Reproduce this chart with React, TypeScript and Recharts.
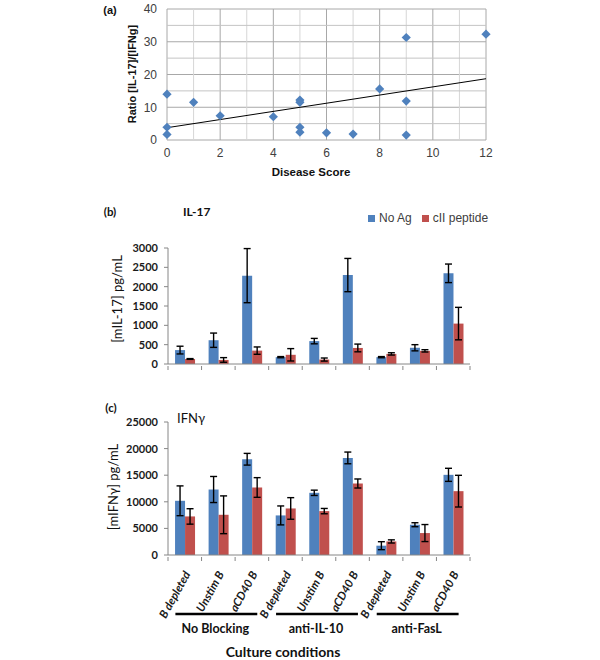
import React from "react";
import {
  ComposedChart,
  Scatter,
  XAxis,
  YAxis,
  CartesianGrid,
  ReferenceLine,
  BarChart,
  Bar,
  ErrorBar,
  Legend,
} from "recharts";

// panel (a): disease score vs IL-17/IFNg ratio
const scoreX = [0, 0, 0, 1, 2, 4, 5, 5, 5, 5, 6, 7, 8, 9, 9, 9, 12];
const ratioY = [14.0, 3.9, 1.7, 11.5, 7.4, 7.1, 12.2, 11.5, 3.9, 2.4, 2.2, 1.8, 15.6, 31.3, 11.9, 1.5, 32.3];
const scoreTicks = [0, 2, 4, 6, 8, 10, 12];
const scoreMinor = [1, 3, 5, 7, 9, 11];
const ratioTicks = [0, 10, 20, 30, 40];
const ratioMinor = [5, 15, 25, 35];

// panels (b) and (c)
const cultures = ["B depleted", "Unstim B", "aCD40 B"];
const blocking = ["No Blocking", "anti-IL-10", "anti-FasL"];
const il17NoAg = [360, 615, 2285, 177, 592, 2300, 177, 420, 2345];
const il17NoAgErr = [100, 185, 700, 15, 70, 430, 15, 80, 240];
const il17Cii = [130, 105, 346, 238, 115, 415, 261, 340, 1045];
const il17CiiErr = [10, 60, 95, 160, 40, 100, 30, 30, 420];
const ifnNoAg = [10190, 12310, 18000, 7440, 11690, 18250, 1750, 5690, 15070];
const ifnNoAgErr = [2800, 2450, 1100, 1780, 500, 1100, 750, 375, 1230];
const ifnCii = [7250, 7560, 12690, 8750, 8250, 13440, 2550, 4125, 12000];
const ifnCiiErr = [1450, 3550, 1850, 2030, 500, 850, 300, 1600, 2980];
const il17Ticks = [0, 500, 1000, 1500, 2000, 2500, 3000];
const ifnTicks = [0, 5000, 10000, 15000, 20000, 25000];

const BLUE = "#4F81BD";
const RED = "#C0504D";
const AXIS = "#868686";
const ARIAL = "'Liberation Sans', Arial, sans-serif";
const CALIBRI = "Lato, 'Open Sans', sans-serif";

const points = scoreX.map((x, i) => ({ x, y: ratioY[i] }));

// least squares trendline through the scatter points
function linearFit(xs: number[], ys: number[]) {
  const n = xs.length;
  const mx = xs.reduce((a, b) => a + b, 0) / n;
  const my = ys.reduce((a, b) => a + b, 0) / n;
  let sxy = 0;
  let sxx = 0;
  xs.forEach((x, i) => {
    sxy += (x - mx) * (ys[i] - my);
    sxx += (x - mx) * (x - mx);
  });
  const slope = sxy / sxx;
  return { slope, intercept: my - slope * mx };
}
const fit = linearFit(scoreX, ratioY);
const xMax = scoreTicks[scoreTicks.length - 1];

const rows = il17NoAg.map((_, i) => ({
  cond: cultures[i % 3],
  grp: i % 3 === 1 ? blocking[Math.floor(i / 3)] : "",
  il17NoAg: il17NoAg[i],
  il17NoAgErr: il17NoAgErr[i],
  il17Cii: il17Cii[i],
  il17CiiErr: il17CiiErr[i],
  ifnNoAg: ifnNoAg[i],
  ifnNoAgErr: ifnNoAgErr[i],
  ifnCii: ifnCii[i],
  ifnCiiErr: ifnCiiErr[i],
}));

const BAR_W = 600;
const BAR_RIGHT = 130;
const BAR_YAXIS = 168;
const CAT_W = (BAR_W - BAR_RIGHT - BAR_YAXIS) / rows.length;

const Diamond = (p: any) => {
  const { cx, cy } = p;
  const r = 4.6;
  return (
    <polygon
      points={`${cx},${cy - r} ${cx + r},${cy} ${cx},${cy + r} ${cx - r},${cy}`}
      fill={BLUE}
    />
  );
};

// tick marks between categories, like the original
const TickMarks = ({ x, y, index }: any) => (
  <g stroke={AXIS} strokeWidth={1}>
    <line x1={x - CAT_W / 2} x2={x - CAT_W / 2} y1={y} y2={y + 4} />
    {index === rows.length - 1 && <line x1={x + CAT_W / 2} x2={x + CAT_W / 2} y1={y} y2={y + 4} />}
  </g>
);

const CondTick = (props: any) => {
  const { x, y, payload } = props;
  return (
    <g>
      <TickMarks {...props} />
      <text
        transform={`translate(${x + 6},${y + 17}) rotate(-61)`}
        textAnchor="end"
        fontFamily={CALIBRI}
        fontStyle="italic"
        fontWeight="bold"
        fontSize={11.5}
        fill="#1a1a1a"
      >
        {payload.value}
      </text>
    </g>
  );
};

const GroupTick = ({ x, y, payload }: any) => {
  if (!payload.value) return null;
  const half = CAT_W * 1.22;
  return (
    <g>
      <line x1={x - 2 - half} x2={x - 2 + half} y1={y + 1} y2={y + 1} stroke="#000" strokeWidth={2.5} />
      <text x={x - 3} y={y + 20} textAnchor="middle" fontFamily={CALIBRI} fontWeight="bold" fontSize={12.5} fill="#111">
        {payload.value}
      </text>
    </g>
  );
};

const Txt = ({ x, y, rotate = 0, start = false, style, children }: any) => (
  <div
    style={{
      position: "absolute",
      left: x,
      top: y,
      transform: `translate(${start ? "0" : "-50%"},-50%) rotate(${rotate}deg)`,
      whiteSpace: "nowrap",
      lineHeight: 1,
      color: "#111",
      ...style,
    }}
  >
    {children}
  </div>
);

const barTick = { fontFamily: CALIBRI, fontWeight: "bold", fontSize: 11, fill: "#1a1a1a" };
const errProps = { width: 3.5, stroke: "#000", strokeWidth: 1.4, isAnimationActive: false };

export default function App() {
  return (
    <div style={{ position: "absolute", left: 0, top: 0, width: 600, height: 660, background: "#fff" }}>
      {/* (a) */}
      <div style={{ position: "absolute", left: 0, top: 0 }}>
        <ComposedChart width={600} height={185} margin={{ top: 9, right: 114, bottom: 5, left: 0 }}>
          <CartesianGrid stroke="#a8a8a8" strokeWidth={1} />
          {scoreMinor.map((v) => (
            <ReferenceLine key={"vx" + v} x={v} stroke="#d6d6d6" strokeWidth={1} />
          ))}
          {ratioMinor.map((v) => (
            <ReferenceLine key={"hy" + v} y={v} stroke="#c4c4c4" strokeWidth={1} />
          ))}
          <XAxis
            type="number"
            dataKey="x"
            domain={[0, xMax]}
            ticks={scoreTicks}
            axisLine={false}
            tickLine={false}
            height={40}
            tick={{ fontFamily: ARIAL, fontSize: 12, fill: "#404040" }}
          />
          <YAxis
            type="number"
            dataKey="y"
            domain={[0, 40]}
            ticks={ratioTicks}
            axisLine={false}
            tickLine={false}
            width={167}
            tickMargin={4}
            tick={{ fontFamily: ARIAL, fontSize: 12, fill: "#404040" }}
          />
          <ReferenceLine
            segment={[
              { x: 0, y: fit.intercept },
              { x: xMax, y: fit.intercept + fit.slope * xMax },
            ]}
            stroke="#000"
            strokeWidth={1}
          />
          <Scatter data={points} shape={Diamond} isAnimationActive={false} />
        </ComposedChart>
      </div>

      {/* (b) */}
      <div style={{ position: "absolute", left: 0, top: 190 }}>
        <BarChart
          width={BAR_W}
          height={190}
          data={rows}
          margin={{ top: 44, right: BAR_RIGHT, bottom: 6, left: 0 }}
          barCategoryGap="21%"
          barGap={0}
        >
          <XAxis
            dataKey="cond"
            height={10}
            axisLine={{ stroke: AXIS }}
            tickLine={false}
            tickSize={0}
            interval={0}
            tick={<TickMarks />}
          />
          <YAxis
            domain={[0, 3000]}
            ticks={il17Ticks}
            width={BAR_YAXIS}
            axisLine={{ stroke: AXIS }}
            tickLine={{ stroke: AXIS }}
            tickSize={4}
            tickMargin={6}
            tick={barTick}
          />
          <Legend
            verticalAlign="top"
            align="left"
            iconType="square"
            iconSize={7}
            wrapperStyle={{ top: 21, left: 368, width: 140, fontFamily: ARIAL, fontSize: 12 }}
            formatter={(v: string) => <span style={{ color: "#404040" }}>{v}</span>}
          />
          <Bar dataKey="il17NoAg" name="No Ag" fill={BLUE} isAnimationActive={false}>
            <ErrorBar dataKey="il17NoAgErr" {...errProps} />
          </Bar>
          <Bar dataKey="il17Cii" name="cII peptide" fill={RED} isAnimationActive={false}>
            <ErrorBar dataKey="il17CiiErr" {...errProps} />
          </Bar>
        </BarChart>
      </div>

      {/* (c) */}
      <div style={{ position: "absolute", left: 0, top: 390 }}>
        <BarChart
          width={BAR_W}
          height={270}
          data={rows}
          margin={{ top: 32, right: BAR_RIGHT, bottom: 0, left: 0 }}
          barCategoryGap="21%"
          barGap={0}
        >
          <XAxis
            dataKey="cond"
            height={56}
            axisLine={{ stroke: AXIS }}
            tickLine={false}
            tickSize={0}
            interval={0}
            tick={<CondTick />}
          />
          <XAxis
            xAxisId="grp"
            dataKey="grp"
            height={49}
            axisLine={false}
            tickLine={false}
            tickSize={0}
            interval={0}
            tick={<GroupTick />}
          />
          <YAxis
            domain={[0, 25000]}
            ticks={ifnTicks}
            width={BAR_YAXIS}
            axisLine={{ stroke: AXIS }}
            tickLine={{ stroke: AXIS }}
            tickSize={4}
            tickMargin={6}
            tick={barTick}
          />
          <Bar dataKey="ifnNoAg" name="No Ag" fill={BLUE} isAnimationActive={false}>
            <ErrorBar dataKey="ifnNoAgErr" {...errProps} />
          </Bar>
          <Bar dataKey="ifnCii" name="cII peptide" fill={RED} isAnimationActive={false}>
            <ErrorBar dataKey="ifnCiiErr" {...errProps} />
          </Bar>
        </BarChart>
      </div>

      <Txt x={110} y={10} style={{ fontFamily: ARIAL, fontSize: 11, fontWeight: "bold" }}>(a)</Txt>
      <Txt x={132} y={74} rotate={-90} style={{ fontFamily: ARIAL, fontSize: 11, fontWeight: "bold" }}>
        Ratio [IL-17]/[IFNg]
      </Txt>
      <Txt x={311} y={173} style={{ fontFamily: ARIAL, fontSize: 11.5, fontWeight: "bold" }}>Disease Score</Txt>

      <Txt x={110} y={212} style={{ fontFamily: CALIBRI, fontSize: 11.5, fontWeight: "bold" }}>(b)</Txt>
      <Txt x={183} y={212} start style={{ fontFamily: CALIBRI, fontSize: 12, fontWeight: "bold" }}>IL-17</Txt>
      <Txt x={117} y={299} rotate={-90} style={{ fontFamily: CALIBRI, fontSize: 13 }}>[mIL-17] pg/mL</Txt>

      <Txt x={111} y={408} style={{ fontFamily: CALIBRI, fontSize: 11.5, fontWeight: "bold" }}>(c)</Txt>
      <Txt x={177} y={418} start style={{ fontFamily: CALIBRI, fontSize: 13 }}>IFNγ</Txt>
      <Txt x={113} y={487} rotate={-90} style={{ fontFamily: CALIBRI, fontSize: 13 }}>[mIFNγ] pg/mL</Txt>
      <Txt x={283} y={652} style={{ fontFamily: CALIBRI, fontSize: 14, fontWeight: "bold" }}>Culture conditions</Txt>
    </div>
  );
}
